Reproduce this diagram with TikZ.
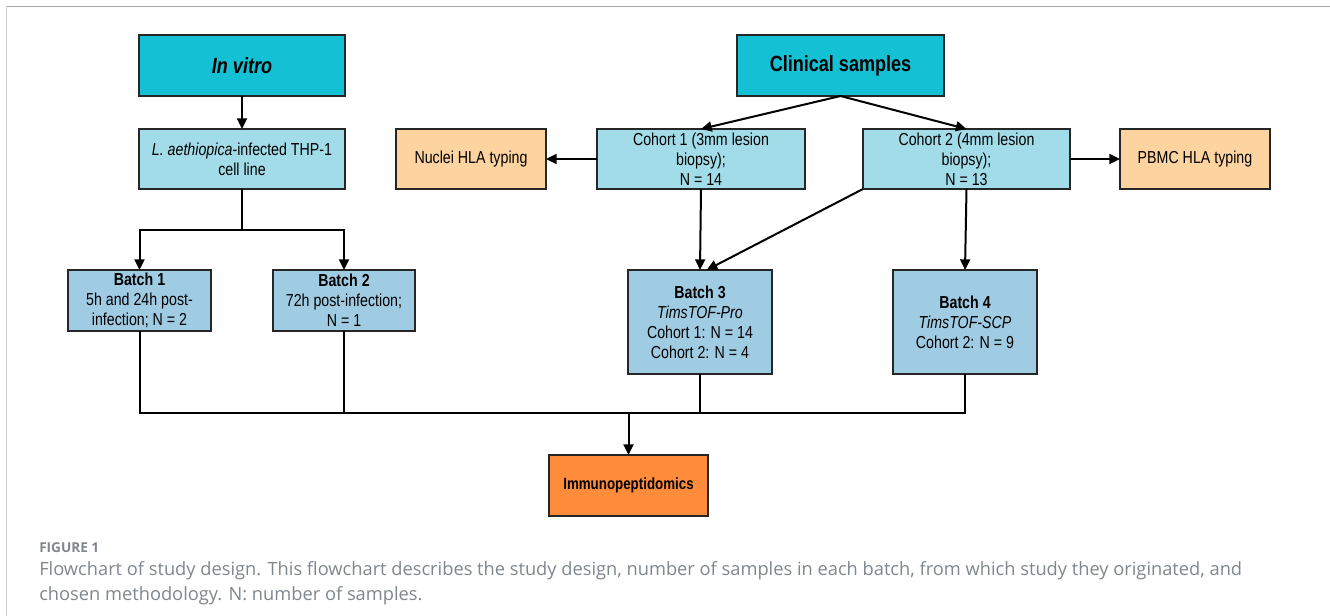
\documentclass[tikz,border=0pt]{standalone}
\usepackage{fontspec}
\setmainfont{Liberation Sans}[FakeStretch=0.82]
\newfontfamily\capfont{Open Sans}
\usetikzlibrary{arrows.meta,calc}
\definecolor{teal1}{HTML}{14C0D3}
\definecolor{lcyan}{HTML}{A2DCE8}
\definecolor{peach}{HTML}{FDD3A0}
\definecolor{bblue}{HTML}{A0CCE3}
\definecolor{orng}{HTML}{FF8C3A}
\definecolor{capgray}{HTML}{80868E}
\tikzset{
  box/.style 2 args={draw=black!85, line width=1.5pt, inner sep=1pt, outer sep=0pt, align=center,
    minimum width=#1*0.75pt, minimum height=#2*0.75pt, font=\fontsize{13}{15}\selectfont},
  conn/.style={line width=1.5pt, draw=black},
  arr/.style={conn, -{Triangle[length=8pt,width=7.5pt]}},
  titletext/.style={font=\fontsize{16.5}{19}\selectfont\bfseries},
  captext/.style={anchor=base west, inner sep=0pt, text=capgray},
}
\begin{document}
\begin{tikzpicture}[x=0.75pt,y=-0.75pt]
\useasboundingbox (0,0) rectangle (1330,616);
\draw[line width=1pt, draw=black!35] (1330,6.5) -- (6.5,6.5);
\draw[line width=1pt, draw=black!18] (6.5,6.5) -- (6.5,616);
% nodes
\node[box={206}{61}, fill=teal1, titletext] (invitro) at (242,65.5) {\textit{In vitro}};
\node[box={207}{61}, fill=teal1, titletext] (clinical) at (840.5,65.5) {Clinical samples};
\node[box={206}{60}, fill=lcyan] (laeth) at (242,159) {\textit{L. aethiopica}-infected THP-1\\cell line};
\node[box={150}{60}, fill=peach] (nuclei) at (471,159) {Nuclei HLA typing};
\node[box={208}{60}, fill=lcyan] (coh1) at (701,159) {Cohort 1 (3mm lesion\\biopsy);\\N = 14};
\node[box={207}{60}, fill=lcyan] (coh2) at (966.5,159) {Cohort 2 (4mm lesion\\biopsy);\\N = 13};
\node[box={150}{60}, fill=peach] (pbmc) at (1195,159) {PBMC HLA typing};
\node[box={143}{61}, fill=bblue] (b1) at (139.5,300.5) {\textbf{Batch 1}\\5h and 24h post-\\infection; N = 2};
\node[box={142}{61}, fill=bblue] (b2) at (344,300.5) {\textbf{Batch 2}\\72h post-infection;\\N = 1};
\node[box={144}{104}, fill=bblue] (b3) at (700,322) {\textbf{Batch 3}\\\textit{TimsTOF-Pro}\\Cohort 1: N = 14\\Cohort 2: N = 4};
\node[box={144}{104}, fill=bblue] (b4) at (965,322) {\textbf{Batch 4}\\\textit{TimsTOF-SCP}\\Cohort 2: N = 9};
\node[box={159}{61}, fill=orng, font=\fontsize{12.2}{14}\selectfont\bfseries] (immuno) at (628.5,485.5) {Immunopeptidomics};
% connectors
\coordinate (sp) at (242,230);
\coordinate (bus) at (0,413);
\draw[arr] (invitro) -- (laeth);
\draw[conn] (laeth.south) -- (sp);
\draw[arr] (sp) -| (b1.north);
\draw[arr] (sp) -| (b2.north);
\draw[arr] (clinical.south) -- (coh1.north);
\draw[arr] (clinical.south) -- (coh2.north);
\draw[arr] (coh1.west) -- (nuclei.east);
\draw[arr] (coh2.east) -- (pbmc.west);
\draw[arr] (coh1.south) -- (b3.north);
\draw[arr] (coh2.south west) -- ([xshift=5pt]b3.north);
\draw[arr] (coh2.south) -- (b4.north);
\draw[conn] (b1.south) -- (b1.south |- bus) -- (b4.south |- bus) -- (b4.south);
\draw[conn] (b2.south) -- (b2.south |- bus);
\draw[conn] (b3.south) -- (b3.south |- bus);
\draw[arr] (immuno.north |- bus) -- (immuno.north);
% caption
\node[captext, font=\capfont\fontsize{10.2}{12}\selectfont\bfseries] (figlab) at (39,552) {FIGURE 1};
\node[captext, font=\capfont\fontsize{13.7}{19}\selectfont] (cap1) at (39,575) {Flowchart of study design. This flowchart describes the study design, number of samples in each batch, from which study they originated, and};
\node[captext, font=\capfont\fontsize{13.7}{19}\selectfont] (cap2) at (39,600) {chosen methodology. N: number of samples.};
\end{tikzpicture}
\end{document}
